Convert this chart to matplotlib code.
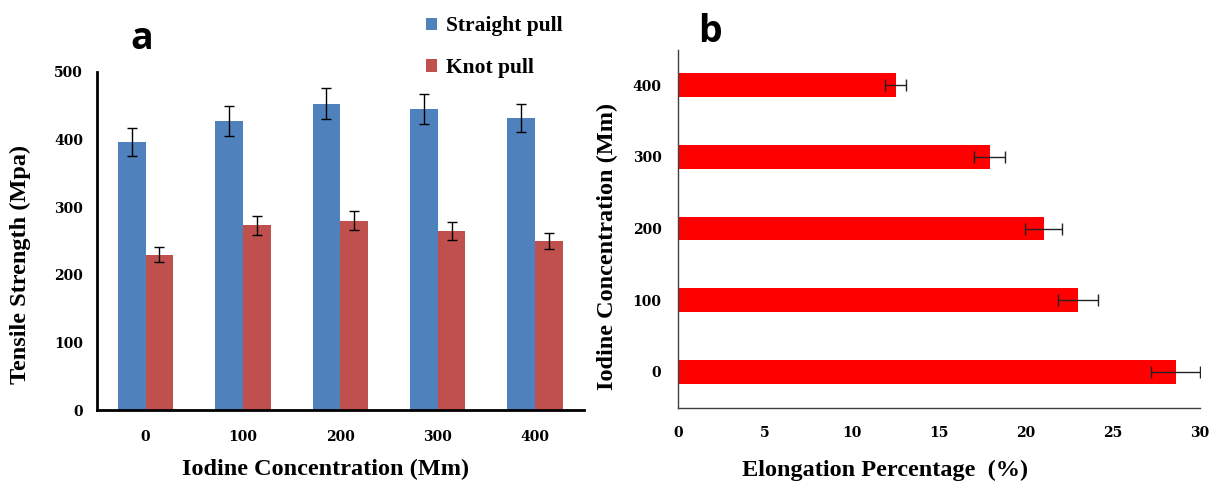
import matplotlib
matplotlib.use("Agg")
import matplotlib.pyplot as plt
from matplotlib.font_manager import FontProperties
import numpy as np

# panel a: tensile strength
concentrations = ["0", "100", "200", "300", "400"]
straightPull = [396, 427, 453, 445, 432]
straightErr = [21, 22, 23, 22, 21]
knotPull = [230, 273, 280, 265, 250]
knotErr = [11, 14, 14, 13, 12]

# panel b: elongation
elongation = [28.6, 23.0, 21.0, 17.9, 12.5]
elongationErr = [1.4, 1.15, 1.05, 0.9, 0.6]
elongationTicks = [0, 5, 10, 15, 20, 25, 30]

serif = "Liberation Serif"
tickFont = FontProperties(family="DejaVu Serif", weight="bold", size=10)
labelFont = dict(family=serif, weight="bold", size=17.5)

fig = plt.figure(figsize=(12.11, 4.82), dpi=100)

# ---- panel a ----
axA = fig.add_axes([0.080, 0.149, 0.402, 0.702])
x = np.arange(len(concentrations))
width = 0.285
errStyle = dict(ecolor="black", elinewidth=1.0, capsize=3.5, capthick=1.0)
axA.bar(x - width / 2, straightPull, width, yerr=straightErr, color="#4F81BD",
        label="Straight pull", error_kw=errStyle)
axA.bar(x + width / 2, knotPull, width, yerr=knotErr, color="#C0504D",
        label="Knot pull", error_kw=errStyle)
axA.set_xlim(-0.5, 4.5)
axA.set_ylim(0, 500)
axA.set_yticks(np.arange(0, 501, 100))
axA.set_xticks(x)
axA.set_xticklabels(concentrations)
for side in ["top", "right"]:
    axA.spines[side].set_visible(False)
for side in ["left", "bottom"]:
    axA.spines[side].set_linewidth(2.0)
axA.tick_params(axis="x", length=0, pad=14)
axA.tick_params(axis="y", length=0, pad=10)
for lbl in axA.get_xticklabels() + axA.get_yticklabels():
    lbl.set_fontproperties(tickFont)
axA.set_xlabel("Iodine Concentration (Mm)", **labelFont)
axA.xaxis.set_label_coords(0.47, -0.145)
axA.set_ylabel("Tensile Strength (Mpa)", **labelFont)
axA.yaxis.set_label_coords(-0.136, 0.43)
axA.legend(loc="upper left", bbox_to_anchor=(0.336, 1.006), bbox_transform=fig.transFigure,
           frameon=False, prop=dict(family=serif, weight="bold", size=15.5),
           handlelength=0.5, handleheight=0.5, handletextpad=0.4, labelspacing=1.0)
fig.text(0.117, 0.92, "a", family="Open Sans", weight="bold", size=27, ha="center", va="center")

# ---- panel b ----
axB = fig.add_axes([0.560, 0.154, 0.431, 0.742])
y = np.arange(len(concentrations))
axB.barh(y, elongation, 0.33, xerr=elongationErr, color="#FF0000",
         error_kw=dict(ecolor="#222222", elinewidth=1.0, capsize=4, capthick=1.0))
axB.set_xlim(0, 30)
axB.set_ylim(-0.5, 4.49)
axB.set_xticks(elongationTicks)
axB.set_yticks(y)
axB.set_yticklabels(concentrations)
for side in ["top", "right"]:
    axB.spines[side].set_visible(False)
for side in ["left", "bottom"]:
    axB.spines[side].set_linewidth(1.0)
    axB.spines[side].set_color("#404040")
axB.tick_params(axis="x", length=0, pad=13)
axB.tick_params(axis="y", length=0, pad=12)
for lbl in axB.get_xticklabels() + axB.get_yticklabels():
    lbl.set_fontproperties(tickFont)
axB.set_xlabel("Elongation Percentage  (%)", **labelFont)
axB.xaxis.set_label_coords(0.397, -0.145)
axB.set_ylabel("Iodine Concentration (Mm)", **labelFont)
axB.yaxis.set_label_coords(-0.116, 0.452)
fig.text(0.586, 0.933, "b", family="Open Sans", weight="bold", size=27, ha="center", va="center")

fig.savefig("out.png", dpi=100)
